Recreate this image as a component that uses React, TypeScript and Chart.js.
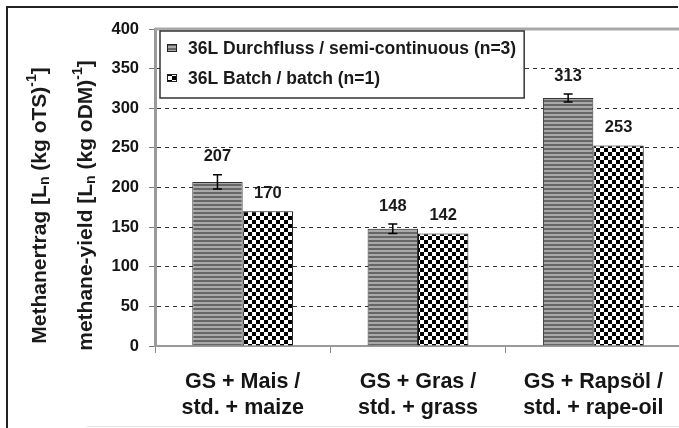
import React, { useEffect, useRef } from 'react';
import { Chart, registerables } from 'chart.js';

Chart.register(...registerables);

const categories = [
  ['GS + Mais /', 'std. + maize'],
  ['GS + Gras /', 'std. + grass'],
  ['GS + Rapsöl /', 'std. + rape-oil'],
];
const seriesLabels = ['36L Durchfluss / semi-continuous (n=3)', '36L Batch / batch (n=1)'];
const continuousValues = [207, 148, 313];
const continuousErrors = [9, 6, 5];
const batchValues = [170, 142, 253];
const yMin = 0;
const yMax = 400;
const yStep = 50;
const yTitleLines = [
  [{ t: 'Methanertrag [L' }, { t: 'n', sub: true }, { t: ' (kg oTS)' }, { t: '-1', sup: true }, { t: ']' }],
  [{ t: 'methane-yield [L' }, { t: 'n', sub: true }, { t: ' (kg oDM)' }, { t: '-1', sup: true }, { t: ']' }],
];

const FONT = "'Liberation Sans', Arial, sans-serif";

function makeStripes(): CanvasPattern {
  const c = document.createElement('canvas');
  c.width = 4;
  c.height = 4;
  const g = c.getContext('2d')!;
  g.fillStyle = '#a9a9a9';
  g.fillRect(0, 0, 4, 4);
  g.fillStyle = '#666666';
  g.fillRect(0, 0, 4, 2);
  return g.createPattern(c, 'repeat')!;
}

function makeChecker(): CanvasPattern {
  const c = document.createElement('canvas');
  c.width = 8;
  c.height = 8;
  const g = c.getContext('2d')!;
  g.fillStyle = '#ffffff';
  g.fillRect(0, 0, 8, 8);
  g.fillStyle = '#000000';
  g.fillRect(0, 0, 4, 4);
  g.fillRect(4, 4, 4, 4);
  return g.createPattern(c, 'repeat')!;
}

const decorPlugin = {
  id: 'decor',
  beforeDatasetsDraw(chart: any) {
    const { ctx, chartArea, scales } = chart;
    const y = scales.y.getPixelForValue(yMax);
    ctx.save();
    ctx.strokeStyle = '#a8a8a8';
    ctx.lineWidth = 3;
    ctx.beginPath();
    ctx.moveTo(chartArea.left, y);
    ctx.lineTo(chartArea.right, y);
    ctx.stroke();
    ctx.restore();
  },
  afterDatasetsDraw(chart: any) {
    const { ctx, scales } = chart;
    const ys = scales.y;
    ctx.save();
    const meta0 = chart.getDatasetMeta(0);
    ctx.strokeStyle = '#000';
    ctx.lineWidth = 1.5;
    meta0.data.forEach((bar: any, i: number) => {
      const v = continuousValues[i];
      const e = continuousErrors[i];
      const yt = ys.getPixelForValue(v + e);
      const yb = ys.getPixelForValue(v - e);
      ctx.beginPath();
      ctx.moveTo(bar.x, yt);
      ctx.lineTo(bar.x, yb);
      ctx.moveTo(bar.x - 4.5, yt);
      ctx.lineTo(bar.x + 4.5, yt);
      ctx.moveTo(bar.x - 4.5, yb);
      ctx.lineTo(bar.x + 4.5, yb);
      ctx.stroke();
    });
    ctx.fillStyle = '#1a1a1a';
    ctx.font = `bold 16.5px ${FONT}`;
    ctx.textAlign = 'center';
    ctx.textBaseline = 'middle';
    chart.data.datasets.forEach((ds: any, di: number) => {
      const meta = chart.getDatasetMeta(di);
      meta.data.forEach((bar: any, i: number) => {
        const v = ds.data[i];
        const e = di === 0 ? continuousErrors[i] : 0;
        const y = ys.getPixelForValue(v + e) - 18;
        ctx.fillText(String(v), bar.x, y);
      });
    });
    ctx.restore();
  },
  afterDraw(chart: any) {
    const { ctx, chartArea } = chart;
    ctx.save();
    const lx = chartArea.left + 5;
    const ly = chartArea.top + 2;
    ctx.font = `bold 17.5px ${FONT}`;
    const tw = Math.max(...seriesLabels.map((s) => ctx.measureText(s).width));
    const w = 28 + tw + 8;
    const h = 67;
    ctx.fillStyle = '#fff';
    ctx.fillRect(lx, ly, w, h);
    ctx.strokeStyle = '#333';
    ctx.lineWidth = 1.5;
    ctx.strokeRect(lx, ly, w, h);
    const rows = [ly + 17, ly + 47];
    chart.data.datasets.forEach((ds: any, i: number) => {
      const cy = rows[i];
      ctx.fillStyle = ds.backgroundColor;
      ctx.fillRect(lx + 7, cy - 4, 10, 8);
      ctx.strokeStyle = '#222';
      ctx.lineWidth = 1;
      ctx.strokeRect(lx + 7.5, cy - 3.5, 9, 7);
      ctx.fillStyle = '#1a1a1a';
      ctx.textAlign = 'left';
      ctx.textBaseline = 'middle';
      ctx.fillText(ds.label, lx + 28, cy + 1);
    });
    const size = 21;
    const small = 14;
    const cyT = (chartArea.top + chartArea.bottom) / 2 + 18;
    const xs = [38, 84];
    yTitleLines.forEach((segs, li) => {
      ctx.save();
      ctx.translate(xs[li], cyT);
      ctx.rotate(-Math.PI / 2);
      ctx.fillStyle = '#1a1a1a';
      ctx.textAlign = 'left';
      ctx.textBaseline = 'alphabetic';
      let total = 0;
      const widths = segs.map((s: any) => {
        ctx.font = `bold ${s.sub || s.sup ? small : size}px ${FONT}`;
        const ww = ctx.measureText(s.t).width;
        total += ww;
        return ww;
      });
      let x = -total / 2;
      const base = size * 0.36;
      segs.forEach((s: any, k: number) => {
        ctx.font = `bold ${s.sub || s.sup ? small : size}px ${FONT}`;
        let yy = base;
        if (s.sub) yy = base + size * 0.18;
        if (s.sup) yy = base - size * 0.45;
        ctx.fillText(s.t, x, yy);
        x += widths[k];
      });
      ctx.restore();
    });
    ctx.restore();
  },
};

export default function App() {
  const ref = useRef<HTMLCanvasElement>(null);
  useEffect(() => {
    const canvas = ref.current!;
    const stripes = makeStripes();
    const checker = makeChecker();
    const chart = new Chart(canvas, {
      type: 'bar',
      data: {
        labels: categories,
        datasets: [
          {
            label: seriesLabels[0],
            data: continuousValues,
            backgroundColor: stripes as any,
            borderColor: '#333',
            borderWidth: 1,
          },
          {
            label: seriesLabels[1],
            data: batchValues,
            backgroundColor: checker as any,
            borderColor: '#111',
            borderWidth: 1,
          },
        ],
      },
      options: {
        responsive: false,
        animation: false,
        devicePixelRatio: 1,
        layout: { padding: { left: 0, top: 29, right: 9, bottom: 0 } },
        datasets: { bar: { categoryPercentage: 0.575, barPercentage: 1 } },
        plugins: { legend: { display: false }, tooltip: { enabled: false } },
        scales: {
          x: {
            grid: {
              display: true,
              drawOnChartArea: false,
              drawTicks: true,
              tickLength: 7,
              color: '#8a8a8a',
              lineWidth: 1,
              offset: true,
            },
            border: { display: true, color: '#9a9a9a', width: 2 },
            ticks: {
              color: '#151515',
              font: { family: FONT, size: 21.5, weight: 'bold', lineHeight: 1.22 },
              padding: 16,
              maxRotation: 0,
              autoSkip: false,
            },
            afterFit: (s: any) => {
              s.height = 82;
            },
          },
          y: {
            min: yMin,
            max: yMax,
            ticks: {
              stepSize: yStep,
              color: '#151515',
              font: { family: FONT, size: 16.5, weight: 'bold' },
              padding: 10,
            },
            grid: {
              color: (c: any) =>
                c.tick && (c.tick.value === yMin || c.tick.value === yMax) ? 'rgba(0,0,0,0)' : '#333',
              tickColor: '#777',
              tickLength: 6,
              lineWidth: 1,
            },
            border: { display: true, color: '#9a9a9a', width: 3, dash: [4, 4] },
            afterFit: (s: any) => {
              s.width = 155;
            },
          },
        },
      } as any,
      plugins: [decorPlugin],
    });
    return () => chart.destroy();
  }, []);

  return (
    <div
      style={{
        position: 'fixed',
        left: 0,
        top: 0,
        width: 679,
        height: 428,
        overflow: 'hidden',
        background: '#fff',
      }}
    >
      <div
        style={{
          position: 'absolute',
          left: 6,
          top: 6,
          width: 670,
          height: 440,
          borderTop: '2px solid #222',
          borderLeft: '2px solid #222',
        }}
      />
      <div
        style={{ position: 'absolute', left: 87, top: 426, width: 592, height: 1, background: '#e2e2e2' }}
      />
      <canvas ref={ref} width={690} height={428} style={{ position: 'absolute', left: 0, top: 0, display: 'block' }} />
    </div>
  );
}
